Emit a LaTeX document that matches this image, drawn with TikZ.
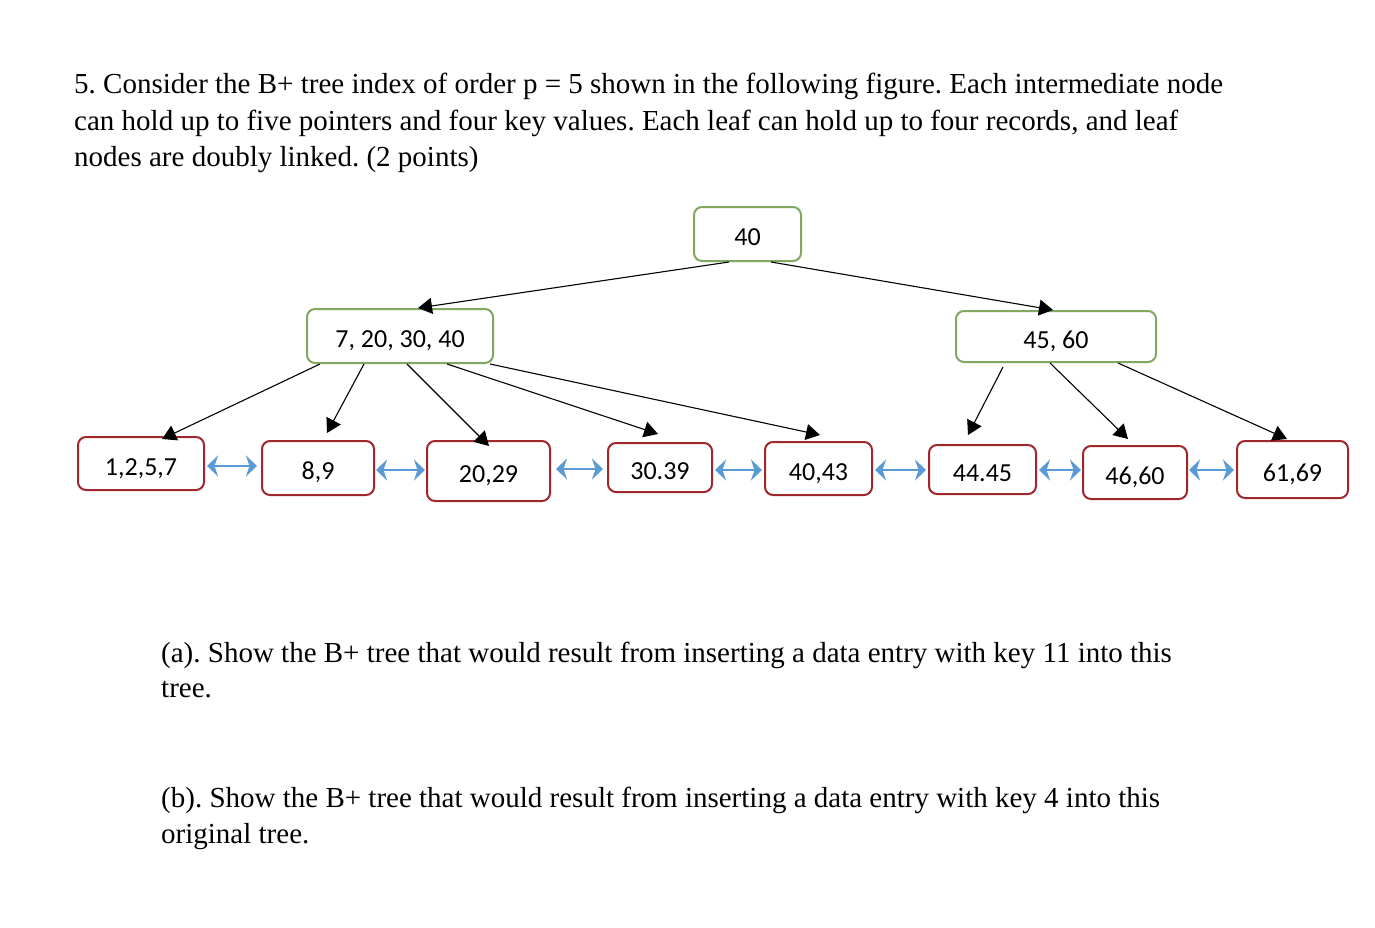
\documentclass[tikz,border=0pt]{standalone}
\usepackage{fontspec}
\setmainfont{Liberation Serif}
\newfontfamily\calfont{Carlito}
\usetikzlibrary{arrows.meta}
\definecolor{inner}{HTML}{80A860}
\definecolor{leafc}{HTML}{A0282C}
\definecolor{linkc}{HTML}{5B9BD5}
\frenchspacing
\tikzset{
  innerbox/.style={draw=inner, line width=2pt, rounded corners=8pt, fill=white,
    font=\calfont\fontsize{26}{30}\selectfont, inner sep=0pt, text height=23pt, text depth=0pt},
  leafbox/.style={draw=leafc, line width=2pt, rounded corners=8pt, fill=white,
    font=\calfont\fontsize{26}{30}\selectfont, inner sep=0pt, text height=23pt, text depth=0pt},
  ptr/.style={draw=black, line width=1.1pt, -{Triangle[length=14pt,width=16pt]}},
  lnk/.style={draw=linkc, line width=1.5pt, {Stealth[length=11pt,width=21pt,inset=3.5pt]}-{Stealth[length=11pt,width=21pt,inset=3.5pt]}},
  body/.style={anchor=base west, inner sep=0pt, font=\fontsize{29}{36}\selectfont}
}
\begin{document}
\begin{tikzpicture}[x=1pt,y=-1pt]
\useasboundingbox[fill=white] (0,0) rectangle (1375,928);
% text
\node[body] (t1) at (74,94) {5. Consider the B+ tree index of order p = 5 shown in the following figure. Each intermediate node};
\node[body] (t2) at (74,131) {can hold up to five pointers and four key values. Each leaf can hold up to four records, and leaf};
\node[body] (t3) at (74,167) {nodes are doubly linked. (2 points)};
\node[body] (t4) at (161,662) {(a). Show the B+ tree that would result from inserting a data entry with key 11 into this};
\node[body] (t5) at (161,697) {tree.};
\node[body] (t6) at (161,807) {(b). Show the B+ tree that would result from inserting a data entry with key 4 into this};
\node[body] (t7) at (161,843) {original tree.};
% internal nodes
\node[innerbox, minimum width=107pt, minimum height=54pt] (root) at (747.5,234) {40};
\node[innerbox, minimum width=186pt, minimum height=54pt] (i1) at (400,336) {7, 20, 30, 40};
\node[innerbox, minimum width=200pt, minimum height=51pt] (i2) at (1056,336.5) {45, 60};
% leaves
\node[leafbox, minimum width=126pt, minimum height=53pt] (l1) at (141,463.5) {1,2,5,7};
\node[leafbox, minimum width=112pt, minimum height=54pt] (l2) at (318,468) {8,9};
\node[leafbox, minimum width=123pt, minimum height=60pt] (l3) at (488.5,471) {20,29};
\node[leafbox, minimum width=104pt, minimum height=49pt] (l4) at (660,467.5) {30.39};
\node[leafbox, minimum width=107pt, minimum height=53pt] (l5) at (818.5,468.5) {40,43};
\node[leafbox, minimum width=107pt, minimum height=49pt] (l6) at (982.5,469.5) {44.45};
\node[leafbox, minimum width=104pt, minimum height=53pt] (l7) at (1135,472.5) {46,60};
\node[leafbox, minimum width=111pt, minimum height=57pt] (l8) at (1292.5,469.5) {61,69};
% pointers
\draw[ptr] ([xshift=-18.5pt]root.south) -- ([xshift=18pt]i1.north);
\draw[ptr] ([xshift=23.5pt]root.south) -- ([xshift=-3pt]i2.north);
\draw[ptr] ([xshift=-80pt]i1.south) -- ([xshift=21pt,yshift=-3pt]l1.north);
\draw[ptr] ([xshift=-36pt]i1.south) -- ([xshift=9pt,yshift=7pt]l2.north);
\draw[ptr] ([xshift=7pt]i1.south) -- ([xshift=0.5pt,yshift=-6pt]l3.north);
\draw[ptr] ([xshift=47pt]i1.south) -- ([xshift=-2pt,yshift=8pt]l4.north);
\draw[ptr] ([xshift=90pt]i1.south) -- ([xshift=1.5pt,yshift=6pt]l5.north);
\draw[ptr] ([xshift=-53pt,yshift=-4pt]i2.south) -- ([xshift=-14.5pt,yshift=9pt]l6.north);
\draw[ptr] ([xshift=-6pt]i2.south) -- ([xshift=-7pt,yshift=6pt]l7.north);
\draw[ptr] ([xshift=62pt]i2.south) -- ([xshift=-5.5pt,yshift=1pt]l8.north);
% leaf links
\draw[lnk] ([xshift=2pt,yshift=-2.5pt]l1.east) -- ([xshift=-4pt,yshift=-2.5pt]l1.east -| l2.west);
\draw[lnk] ([xshift=1pt,yshift=-2pt]l2.east) -- ([xshift=-1pt,yshift=-2pt]l2.east -| l3.west);
\draw[lnk] ([xshift=5pt,yshift=2pt]l3.east) -- ([xshift=-4pt,yshift=2pt]l3.east -| l4.west);
\draw[lnk] ([xshift=2pt,yshift=-2.5pt]l4.east) -- ([xshift=-2pt,yshift=-2.5pt]l4.east -| l5.west);
\draw[lnk] ([xshift=2pt,yshift=-1.5pt]l5.east) -- ([xshift=-2pt,yshift=-1.5pt]l5.east -| l6.west);
\draw[lnk] ([xshift=2pt,yshift=-0.5pt]l6.east) -- ([xshift=-1pt,yshift=-0.5pt]l6.east -| l7.west);
\draw[lnk] ([xshift=1pt,yshift=2.5pt]l7.east) -- ([xshift=-2pt,yshift=2.5pt]l7.east -| l8.west);
\end{tikzpicture}
\end{document}
